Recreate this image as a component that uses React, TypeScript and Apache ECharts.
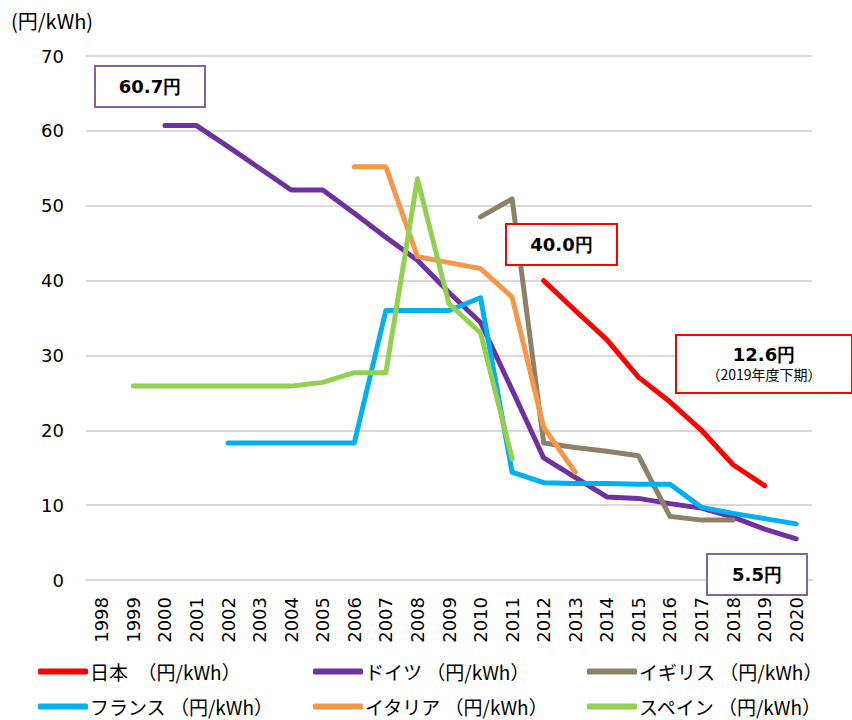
import React, { useEffect, useRef } from "react";
import * as echarts from "echarts";

// Solar FIT purchase price by country, 円/kWh
const years = [
  "1998", "1999", "2000", "2001", "2002", "2003", "2004", "2005", "2006", "2007", "2008", "2009",
  "2010", "2011", "2012", "2013", "2014", "2015", "2016", "2017", "2018", "2019", "2020",
];
const japan = [null, null, null, null, null, null, null, null, null, null, null, null,
  null, null, 40.0, 36.0, 32.1, 27.1, 23.8, 20.0, 15.4, 12.6, null];
const germany = [null, null, 60.7, 60.7, 57.9, 55.0, 52.1, 52.1, 49.0, 45.8, 42.7, 38.4,
  34.4, 25.4, 16.3, 13.7, 11.1, 10.9, 10.2, 9.6, 8.4, 6.8, 5.5];
const uk = [null, null, null, null, null, null, null, null, null, null, null, null,
  48.5, 50.9, 18.3, 17.7, 17.2, 16.6, 8.5, 8.0, 8.0, null, null];
const france = [null, null, null, null, 18.3, 18.3, 18.3, 18.3, 18.3, 36.0, 36.0, 36.0,
  37.7, 14.4, 13.0, 12.9, 12.9, 12.8, 12.8, 9.7, 8.9, 8.2, 7.5];
const italy = [null, null, null, null, null, null, null, null, 55.2, 55.2, 43.2, 42.4,
  41.6, 37.8, 20.4, 14.4, null, null, null, null, null, null, null];
const spain = [null, 25.9, 25.9, 25.9, 25.9, 25.9, 25.9, 26.4, 27.7, 27.7, 53.6, 36.9,
  33.0, 16.2, null, null, null, null, null, null, null, null, null];

const seriesNames = [
  "日本　（円/kWh）",
  "ドイツ （円/kWh）",
  "イギリス （円/kWh）",
  "フランス （円/kWh）",
  "イタリア （円/kWh）",
  "スペイン （円/kWh）",
];
const seriesData = [japan, germany, uk, france, italy, spain];
const colors = ["#FF0000", "#7030A0", "#8C8068", "#00B0F0", "#F79646", "#92D050"];

const yTicks = { min: 0, max: 70, interval: 10 };

const JP = '"Noto Sans CJK JP", sans-serif';
const NUM = '"DejaVu Sans", Verdana, sans-serif';

const fmt = (v: number | null) => `${(v as number).toFixed(1)}円`;

function calloutBox(
  x: number, y: number, w: number, h: number, stroke: string, label: string, sub?: string
) {
  const children: any[] = [
    {
      type: "rect",
      z: 100,
      shape: { x, y, width: w, height: h },
      style: { fill: "#FFFFFF", stroke, lineWidth: 2 },
    },
    {
      type: "text",
      z: 101,
      x: x + w / 2,
      y: sub ? y + 19 : y + h / 2,
      style: {
        text: label,
        fill: "#000",
        fontFamily: NUM,
        fontWeight: "bold",
        fontSize: 18,
        align: "center",
        verticalAlign: "middle",
        textAlign: "center",
        textVerticalAlign: "middle",
      },
    },
  ];
  if (sub) {
    children.push({
      type: "text",
      z: 101,
      x: x + w / 2,
      y: y + 39,
      style: {
        text: sub,
        fill: "#000",
        fontFamily: JP,
        fontSize: 14,
        align: "center",
        verticalAlign: "middle",
        textAlign: "center",
        textVerticalAlign: "middle",
      },
    });
  }
  return { type: "group", z: 100, children };
}

export default function App() {
  const ref = useRef<HTMLDivElement>(null);

  useEffect(() => {
    if (!ref.current) return;
    const chart = echarts.init(ref.current, null, { renderer: "svg" });

    const legendCols = [38, 313, 587];
    const legendRows = [662, 697];

    const option: any = {
      animation: false,
      backgroundColor: "#FFFFFF",
      grid: { left: 86, right: 40, top: 56, bottom: 140, containLabel: false },
      xAxis: {
        type: "category",
        data: years,
        boundaryGap: true,
        axisLine: { show: true, lineStyle: { color: "#D9D9D9", width: 2 } },
        axisTick: { show: false },
        axisLabel: {
          rotate: 90,
          interval: 0,
          color: "#000",
          fontFamily: NUM,
          fontSize: 18,
          margin: 17,
        },
      },
      yAxis: {
        type: "value",
        min: yTicks.min,
        max: yTicks.max,
        interval: yTicks.interval,
        axisLine: { show: false },
        axisTick: { show: false },
        splitLine: { lineStyle: { color: "#D9D9D9", width: 2 } },
        axisLabel: { color: "#000", fontFamily: NUM, fontSize: 18, margin: 22 },
      },
      legend: seriesNames.map((name, i) => ({
        data: [name],
        left: legendCols[i % 3],
        top: legendRows[Math.floor(i / 3)],
        padding: 0,
        icon: "roundRect",
        itemWidth: 50,
        itemHeight: 6,
        itemGap: 0,
        textStyle: { color: "#000", fontFamily: JP, fontSize: 19, padding: [0, 0, 0, -3] },
      })),
      series: seriesNames.map((name, i) => ({
        name,
        type: "line",
        data: seriesData[i],
        symbol: "none",
        connectNulls: false,
        lineStyle: { color: colors[i], width: 5, join: "round", cap: "round" },
        itemStyle: { color: colors[i] },
        z: 2 + i,
      })),
      graphic: [
        {
          type: "text",
          left: 11,
          top: 10,
          z: 100,
          style: { text: "(円/kWh)", fill: "#000", fontFamily: JP, fontSize: 20 },
        },
        calloutBox(95, 66, 110, 41, "#8064A2", fmt(germany[2])),
        calloutBox(506, 224, 111, 41, "#FF0000", fmt(japan[14])),
        calloutBox(676, 335, 176, 58, "#FF0000", fmt(japan[21]), "（2019年度下期）"),
        calloutBox(707, 554, 100, 41, "#8064A2", fmt(germany[22])),
      ],
    };

    chart.setOption(option);
    return () => chart.dispose();
  }, []);

  return (
    <div
      ref={ref}
      style={{ position: "fixed", left: 0, top: 0, width: 852, height: 720 }}
    />
  );
}
